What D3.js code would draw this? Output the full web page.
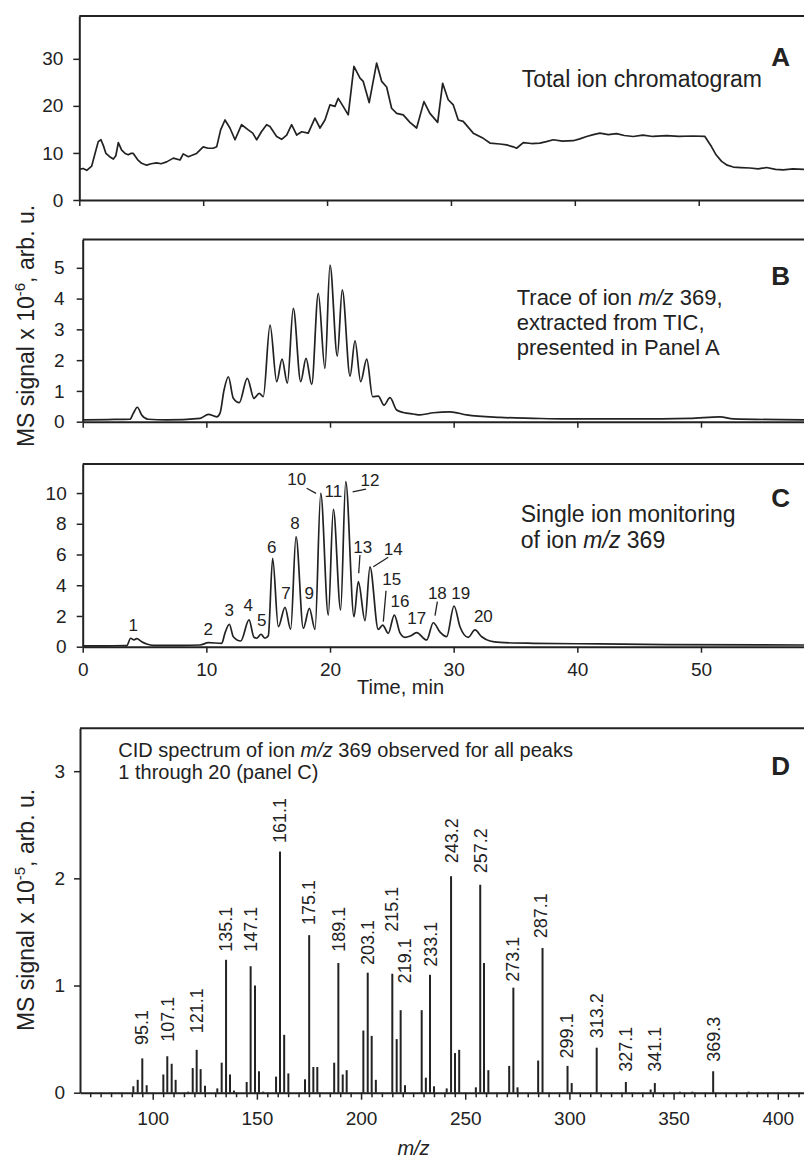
<!DOCTYPE html>
<html>
<head>
<meta charset="utf-8">
<script src="https://cdn.jsdelivr.net/npm/d3@7"></script>
<style>
  body { margin: 0; background: #fff; }
  svg { display: block; font-family: "Liberation Sans", Arial, sans-serif; }
</style>
</head>
<body>
<svg id="chart" width="804" height="1159"></svg>
<script>
// Panel A: total ion chromatogram, [time min, signal x 1e-6]
const ticPoints = [
  [0, 6.5], [0.3, 6.7], [0.6, 6.3], [1.0, 7.2], [1.27, 9.9], [1.53, 12.4], [1.75, 12.8], [1.95, 11.5],
  [2.15, 9.9], [2.45, 9.2], [2.75, 8.7], [2.95, 9.4], [3.15, 12.2], [3.42, 10.6], [3.7, 9.9], [3.95, 9.6],
  [4.15, 9.9], [4.36, 9.9], [4.7, 8.6], [5.03, 7.8], [5.44, 7.4], [5.8, 7.7], [6.25, 7.9], [6.6, 7.7],
  [7.05, 8.1], [7.59, 8.9], [8.13, 8.5], [8.39, 9.8], [8.8, 9.2], [9.1, 9.5], [9.47, 9.9], [10.0, 11.3],
  [10.4, 11.0], [10.81, 11.0], [11.09, 11.3], [11.41, 14.9], [11.76, 17.0], [12.16, 15.3], [12.57, 12.8],
  [13.1, 16.0], [13.64, 14.9], [14.0, 14.2], [14.32, 12.8], [14.7, 14.5], [15.12, 16.0], [15.39, 15.6],
  [15.93, 13.5], [16.33, 12.9], [16.74, 13.8], [17.14, 16.0], [17.55, 13.8], [17.95, 14.5], [18.48, 14.2],
  [19.02, 17.4], [19.43, 15.3], [19.83, 17.0], [20.23, 20.2], [20.64, 19.9], [20.9, 21.6], [21.3, 19.9],
  [21.71, 18.1], [22.17, 28.4], [22.66, 25.9], [22.92, 25.2], [23.4, 20.7], [24.0, 29.1], [24.41, 25.2],
  [24.81, 24.0], [25.21, 19.5], [25.62, 18.4], [26.15, 18.1], [26.69, 16.5], [27.23, 15.3], [27.82, 20.9],
  [28.3, 18.4], [28.93, 16.5], [29.33, 24.8], [29.78, 21.3], [30.19, 20.2], [30.59, 17.0], [30.99, 16.7],
  [31.8, 14.2], [32.61, 13.1], [33.15, 12.1], [33.95, 11.9], [34.5, 11.7], [35.03, 11.3], [35.3, 11.0],
  [35.84, 12.2], [36.5, 12.0], [37.18, 12.1], [37.7, 12.4], [38.26, 12.8], [39.0, 12.5], [39.87, 12.6],
  [40.4, 13.0], [40.95, 13.5], [41.5, 13.9], [42.03, 14.2], [42.7, 13.9], [43.37, 14.1], [44.0, 13.7],
  [44.71, 13.5], [45.5, 13.8], [46.3, 13.5], [47.41, 13.7], [48.4, 13.5], [49.56, 13.6], [50.5, 13.5],
  [51.04, 11.3], [51.4, 9.6], [51.85, 8.2], [52.3, 7.4], [52.79, 7.0], [53.4, 6.9], [54.13, 6.8],
  [54.8, 6.6], [55.48, 6.9], [56.2, 6.5], [56.82, 6.4], [57.6, 6.6], [58.5, 6.5]
]

// Panel B: extracted ion trace m/z 369
const xicPoints = [
  [0, 0.06], [2, 0.07], [3.82, 0.08], [4.09, 0.27], [4.42, 0.47], [4.77, 0.22], [5.3, 0.08], [6.79, 0.06],
  [9.49, 0.11], [10.16, 0.24], [10.84, 0.16], [11.1, 0.27], [11.43, 1.03], [11.78, 1.46], [12.18, 0.76],
  [12.66, 0.62], [13.31, 1.41], [13.85, 0.76], [14.28, 0.92], [14.6, 0.81], [15.15, 3.14], [15.69, 1.30],
  [16.12, 2.03], [16.55, 1.25], [17.03, 3.68], [17.63, 1.30], [18.06, 2.06], [18.52, 1.21], [19.05, 4.17],
  [19.59, 1.73], [20.0, 5.09], [20.59, 2.13], [20.99, 4.28], [21.62, 1.48], [22.02, 2.63], [22.48, 1.30],
  [22.97, 2.03], [23.45, 0.81], [23.9, 0.83], [24.37, 0.54], [24.85, 0.78], [25.39, 0.38], [25.93, 0.30],
  [26.73, 0.25], [27.28, 0.22], [28.35, 0.29], [29.7, 0.32], [31.05, 0.22], [33.75, 0.14], [36.44, 0.11],
  [39.14, 0.09], [44.52, 0.09], [49.1, 0.11], [51.54, 0.16], [52.61, 0.09], [58.33, 0.06]
]

// Panel C: single ion monitoring m/z 369
const simPoints = [
  [0, 0.05], [2, 0.06], [3.56, 0.07], [3.88, 0.55], [4.15, 0.44], [4.37, 0.52], [4.77, 0.33], [5.18, 0.18],
  [5.71, 0.09], [8, 0.08], [9.49, 0.11], [10.16, 0.26], [11.24, 0.22], [11.5, 0.87], [11.86, 1.46],
  [12.18, 0.65], [12.78, 0.37], [13.45, 1.74], [13.85, 0.61], [14.07, 0.55], [14.42, 0.81], [14.74, 0.55],
  [15.01, 0.71], [15.36, 5.75], [15.82, 1.30], [16.36, 2.56], [16.82, 1.13], [17.25, 7.16], [17.84, 1.20],
  [18.33, 2.50], [18.79, 1.13], [19.25, 9.98], [19.86, 2.06], [20.27, 8.94], [20.86, 2.39], [21.27, 10.74],
  [21.94, 1.95], [22.29, 4.23], [22.83, 1.69], [23.23, 5.2], [23.9, 1.13], [24.26, 1.41], [24.71, 0.87],
  [25.2, 2.06], [25.66, 0.9], [26.06, 0.61], [26.5, 0.7], [27.0, 0.91], [27.82, 0.44], [28.35, 1.56],
  [28.9, 0.95], [29.43, 0.65], [30.03, 2.65], [30.51, 1.30], [31.18, 0.61], [31.72, 1.09], [32.27, 0.65],
  [32.94, 0.37], [33.75, 0.28], [36.44, 0.22], [41.83, 0.18], [47.22, 0.14], [58.33, 0.11]
]
const peakNames = ['1', '2', '3', '4', '5', '6', '7', '8', '9', '10', '11', '12', '13', '14', '15', '16', '17', '18', '19', '20']
const peakLabelT = [4.09, 10.16, 11.86, 13.39, 14.48, 15.28, 16.44, 17.17, 18.32, 17.31, 20.27, 23.23, 22.64, 25.12, 24.99, 25.66, 27.01, 28.68, 30.57, 32.4]
const peakLabelV = [1.41, 1.15, 2.39, 2.71, 1.74, 6.51, 3.51, 8.03, 3.47, 10.89, 10.13, 10.85, 6.47, 6.34, 4.39, 2.97, 1.85, 3.47, 3.47, 2.0]
// leader lines [t1, v1, t2, v2]
const peakLeaders = [
  [18.11, 10.31, 18.87, 9.98], [21.83, 10.08, 22.91, 10.26], [22.42, 5.97, 22.32, 4.78],
  [23.5, 5.2, 24.71, 5.82], [24.53, 3.64, 24.31, 1.63], [28.68, 2.93, 28.49, 2.02]
]

// Panel D: CID spectrum (m/z, signal x 1e-5)
const specMz = [90.7, 92.8, 95.0, 97.1, 105.1, 107.0, 109.1, 111.0, 117.0, 119.2, 121.1, 123.0, 125.1, 131.0,
  133.1, 135.2, 137.1, 139.0, 145.1, 147.0, 149.1, 151.0, 153.0, 159.2, 161.1, 163.1, 165.1, 173.1, 175.1,
  177.1, 179.0, 187.1, 189.1, 191.2, 193.1, 201.1, 203.2, 205.1, 207.1, 215.0, 217.1, 219.0, 221.1, 229.1,
  231.1, 233.1, 235.0, 241.1, 243.2, 245.1, 247.1, 255.1, 257.2, 259.0, 261.1, 271.1, 273.1, 275.1, 285.0,
  287.1, 299.1, 301.1, 313.1, 327.1, 339.0, 341.0, 353.0, 359.0, 369.0, 386.0]
const specInt = [0.06, 0.12, 0.32, 0.07, 0.17, 0.34, 0.27, 0.12, 0.01, 0.23, 0.40, 0.22, 0.065, 0.04,
  0.28, 1.24, 0.17, 0.02, 0.10, 1.18, 1.00, 0.20, 0.01, 0.15, 2.25, 0.54, 0.18, 0.125, 1.47,
  0.24, 0.24, 0.28, 1.21, 0.17, 0.21, 0.58, 1.12, 0.53, 0.12, 1.11, 0.50, 0.77, 0.07, 0.77,
  0.14, 1.10, 0.06, 0.04, 2.02, 0.37, 0.40, 0.05, 1.94, 1.21, 0.21, 0.25, 0.98, 0.05, 0.30,
  1.35, 0.25, 0.09, 0.42, 0.10, 0.03, 0.09, 0.01, 0.01, 0.20, 0.01]
const specLabels = ['95.1', '107.1', '121.1', '135.1', '147.1', '161.1', '175.1', '189.1', '203.1', '215.1', '219.1',
  '233.1', '243.2', '257.2', '273.1', '287.1', '299.1', '313.2', '327.1', '341.1', '369.3']
const specLabelMz = [94.8, 107.3, 121.1, 135.2, 146.9, 160.9, 175.1, 189.1, 203.2, 214.8, 221.1,
  233.4, 243.4, 257.4, 272.6, 286.2, 298.8, 313.3, 327.1, 341.0, 369.3]
const specLabelInt = [0.445, 0.476, 0.554, 1.315, 1.315, 2.329, 1.564, 1.315, 1.191, 1.502, 1.02,
  1.175, 2.14, 2.047, 1.035, 1.44, 0.32, 0.507, 0.196, 0.196, 0.289]

const timeTicks = [0, 10, 20, 30, 40, 50]
const mzTicks = [100, 150, 200, 250, 300, 350, 400]

const ink = '#222'
const svg = d3.select('#chart')

function frame (o) {
  const x = d3.scaleLinear().domain(o.xd).range([o.l, o.r])
  const y = d3.scaleLinear().domain(o.yd).range([o.b, o.t])
  const g = svg.append('g')
  g.append('line')
    .attr('x1', o.l).attr('x2', o.r).attr('y1', o.t).attr('y2', o.t)
    .attr('stroke', ink).attr('stroke-width', 2)
  const ax = g.append('g').attr('transform', `translate(0,${o.b})`)
    .call(d3.axisBottom(x).tickValues(o.xt).tickSize(o.xts || 6).tickSizeOuter(0)
      .tickPadding(o.xpad || 10).tickFormat(o.xlab ? d3.format('d') : ''))
  const ay = g.append('g').attr('transform', `translate(${o.l},0)`)
    .call(d3.axisLeft(y).tickValues(o.yt).tickSize(6).tickSizeOuter(0)
      .tickPadding(o.ypad || 10).tickFormat(d3.format('d')))
  ;[ax, ay].forEach(a => {
    a.attr('font-family', null).attr('font-size', 19)
    a.select('.domain').attr('stroke', ink).attr('stroke-width', 2)
    a.selectAll('.tick line').attr('stroke', ink).attr('stroke-width', 1.5)
    a.selectAll('.tick text').attr('fill', ink)
  })
  return { g, x, y }
}

function trace (p, points, curve) {
  p.g.append('path')
    .datum(points)
    .attr('fill', 'none')
    .attr('stroke', ink)
    .attr('stroke-width', 1.7)
    .attr('stroke-linejoin', 'round')
    .attr('d', d3.line().x(d => p.x(d[0])).y(d => p.y(d[1])).curve(curve))
}

function note (x, y, lines, size, lh) {
  const t = svg.append('text').attr('x', x).attr('y', y)
    .attr('font-size', size).attr('fill', ink)
  lines.forEach((parts, i) => {
    parts.forEach((s, j) => {
      const ts = t.append('tspan').text(s[0])
      if (j === 0) ts.attr('x', x).attr('dy', i === 0 ? 0 : lh)
      if (s[1]) ts.attr('font-style', 'italic')
    })
  })
}

function letter (y, s) {
  svg.append('text').attr('x', 790).attr('y', y).attr('text-anchor', 'end')
    .attr('font-size', 26).attr('font-weight', 'bold').attr('fill', ink).text(s)
}

// A
const pA = frame({ l: 79.3, r: 804, t: 16, b: 200, xd: [0, 58.5], yd: [0, 39.1], xt: timeTicks, yt: [0, 10, 20, 30] })
trace(pA, ticPoints, d3.curveLinear)
letter(66, 'A')
note(521.7, 86.7, [[['Total ion chromatogram']]], 23, 0)

// B
const pB = frame({ l: 82.7, r: 804, t: 239.5, b: 421.7, xd: [0, 58.33], yd: [0, 5.92], xt: timeTicks, yt: [0, 1, 2, 3, 4, 5], ypad: 12 })
trace(pB, xicPoints, d3.curveMonotoneX)
letter(285, 'B')
note(516.7, 305.4, [
  [['Trace of ion '], ['m/z', true], [' 369,']],
  [['extracted from TIC,']],
  [['presented in Panel A']]
], 22, 24.6)

// C
const pC = frame({ l: 82.7, r: 804, t: 464, b: 646.7, xd: [0, 58.33], yd: [0, 11.89], xt: timeTicks, yt: [0, 2, 4, 6, 8, 10], xlab: true })
trace(pC, simPoints, d3.curveMonotoneX)
letter(506.7, 'C')
note(520.7, 521.7, [
  [['Single ion monitoring']],
  [['of ion '], ['m/z', true], [' 369']]
], 23, 25.8)
pC.g.selectAll('text.peak')
  .data(peakNames)
  .join('text')
  .attr('class', 'peak')
  .attr('x', (d, i) => pC.x(peakLabelT[i]))
  .attr('y', (d, i) => pC.y(peakLabelV[i]))
  .attr('dy', '0.35em')
  .attr('text-anchor', 'middle')
  .attr('font-size', 17)
  .attr('fill', ink)
  .text(d => d)
pC.g.selectAll('line.leader')
  .data(peakLeaders)
  .join('line')
  .attr('class', 'leader')
  .attr('x1', d => pC.x(d[0])).attr('y1', d => pC.y(d[1]))
  .attr('x2', d => pC.x(d[2])).attr('y2', d => pC.y(d[3]))
  .attr('stroke', ink).attr('stroke-width', 1.3)
svg.append('text').attr('x', 400.5).attr('y', 694).attr('text-anchor', 'middle')
  .attr('font-size', 20).attr('fill', ink).text('Time, min')

// D
const pD = frame({ l: 80, r: 804, t: 728.3, b: 1092.7, xd: [65.1, 412.6], yd: [0, 3.4], xt: mzTicks, xts: 7, xpad: 12, yt: [0, 1, 2, 3], ypad: 9, xlab: true })
pD.g.append('g').attr('transform', `translate(0,${1092.7})`)
  .call(d3.axisBottom(pD.x).tickValues(d3.range(70, 411, 5).filter(v => v % 50 !== 0))
    .tickSize(4.5).tickSizeOuter(0).tickFormat(''))
  .call(a => a.select('.domain').remove())
  .selectAll('.tick line').attr('stroke', ink).attr('stroke-width', 1.5)
pD.g.selectAll('line.stick')
  .data(d3.zip(specMz, specInt))
  .join('line')
  .attr('class', 'stick')
  .attr('x1', d => pD.x(d[0])).attr('x2', d => pD.x(d[0]))
  .attr('y1', pD.y(0)).attr('y2', d => pD.y(d[1]))
  .attr('stroke', ink).attr('stroke-width', 2)
pD.g.selectAll('text.mz')
  .data(specLabels)
  .join('text')
  .attr('class', 'mz')
  .attr('transform', (d, i) => `translate(${pD.x(specLabelMz[i])},${pD.y(specLabelInt[i])}) rotate(-90)`)
  .attr('dy', '0.35em')
  .attr('font-size', 18)
  .attr('fill', ink)
  .text(d => d)
letter(775, 'D')
note(118.3, 756.7, [
  [['CID spectrum of ion '], ['m/z', true], [' 369 observed for all peaks']],
  [['1 through 20 (panel C)']]
], 20, 22.7)
svg.append('text').attr('x', 413.5).attr('y', 1155).attr('text-anchor', 'middle')
  .attr('font-size', 20).attr('font-style', 'italic').attr('fill', ink).text('m/z')

// y-axis titles
function yTitle (cy, exp) {
  const t = svg.append('text')
    .attr('transform', `translate(34,${cy}) rotate(-90)`)
    .attr('text-anchor', 'middle')
    .attr('font-size', 23)
    .attr('fill', ink)
  t.append('tspan').text('MS signal x 10')
  t.append('tspan').attr('font-size', 15).attr('dy', -9).text(exp)
  t.append('tspan').attr('dy', 9).text(', arb. u.')
}
yTitle(326, '-6')
yTitle(910, '-5')
</script>
</body>
</html>
